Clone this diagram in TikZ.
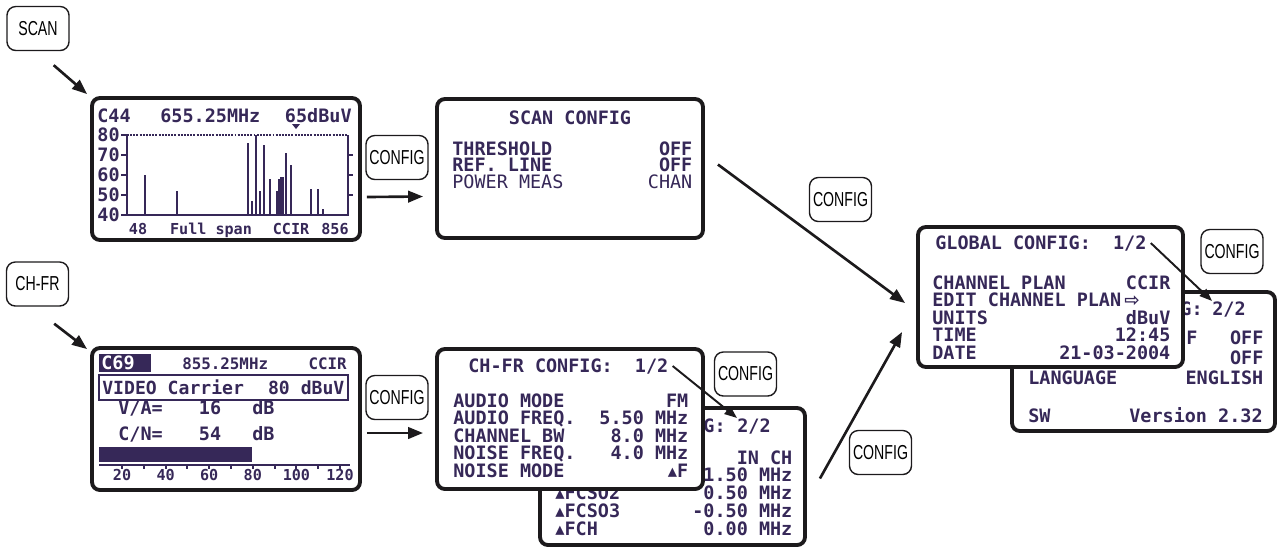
\documentclass[tikz,border=0pt]{standalone}
\usepackage{fontspec}
\usetikzlibrary{arrows.meta,fit,positioning}
\setmainfont{Liberation Sans}
\newfontfamily\lcdfont{DejaVu Sans Mono}
\newfontfamily\btnfont[FakeStretch=0.7]{Liberation Sans}
\newfontfamily\symfont{DejaVu Sans}
\definecolor{lcdink}{RGB}{54,40,88}
\definecolor{rim}{RGB}{28,26,28}
\newcommand\lcdsize[2]{\lcdfont\fontsize{#1}{#2}\selectfont\bfseries\lineskiplimit=-10pt\relax}
\newcommand\dtri{{\symfont ▴}}

\tikzset{
  screen/.style={draw=rim,line width=2.2pt,rounded corners=4.5pt,fill=white,inner sep=0pt},
  btn/.style={draw=rim,line width=0.8pt,rounded corners=5pt,minimum width=12.4mm,minimum height=8.8mm,
    inner sep=0pt,font=\btnfont\fontsize{11.5}{13}\selectfont},
  arr/.style={draw=rim,line width=1.5pt,-{Triangle[length=3mm,width=2.3mm]}},
  subarr/.style={draw=rim,line width=1.1pt,-{Triangle[length=2.5mm,width=1.9mm]}},
  lcd/.style={text=lcdink,inner sep=0pt,font=\lcdsize{10.5}{12}},
  lcdsmall/.style={font=\lcdsize{8.6}{10}},
  rows/.style={lcd,align=flush left,anchor=base west,text width=#1},
}

\begin{document}
\begin{tikzpicture}[x=0.2mm,y=-0.2mm]
\useasboundingbox (0,0) rectangle (1277,547);

% keys
\node[btn] (btnscan) at (38,28.5) {SCAN};
\node[btn] (btnchfr) at (37.5,284) {CH-FR};
\node[btn] (cfga) at (397,157.5) {CONFIG};
\node[btn] (cfgb) at (397,397.5) {CONFIG};
\node[btn] (cfgc) at (840.5,199.5) {CONFIG};
\node[btn] (cfgd) at (745.5,374) {CONFIG};
\node[btn] (cfge) at (880.5,452.5) {CONFIG};
\node[btn] (cfgf) at (1232,251.5) {CONFIG};

% spectrum screen
\node[screen,fit={(92,98) (360,240)}] (spec) {};
\node[lcd,anchor=base west] (spch) at (97,122) {C44};
\node[lcd,anchor=base west] (spfreq) at (160,122) {655.25MHz};
\node[lcd,anchor=base east] (splev) at (352,122) {65dBuV};
\fill[lcdink] (292,124) -- (300,124) -- (296,129) -- cycle;
\draw[lcdink,line width=1.3pt] (127,135) -- (127,215) -- (348,215) -- (348,135);
\draw[lcdink,line width=1.3pt,dash pattern=on 1.1pt off 0.7pt] (127,135) -- (348,135);
\foreach \v in {40,50,...,80}{
  \draw[lcdink,line width=1.3pt] (121,{215-2*(\v-40)}) -- (127,{215-2*(\v-40)});
  \node[lcd,anchor=east] (yl\v) at (120,{215-2*(\v-40)}) {\v};
}
\foreach \v in {50,60,70}
  \draw[lcdink,line width=1.3pt] (348,{215-2*(\v-40)}) -- (353,{215-2*(\v-40)});
\foreach \x/\v in {145/60,177/52,248/76,252/47,256/80,260/52,264/75,270/58,277/52,
                   279/58,281/59,283/59,286/71,291/65,311/53,318/53,323/43}
  \draw[lcdink,line width=1.5pt] (\x,215) -- (\x,{215-2*(\v-40)});
\node[lcd,lcdsmall,anchor=base] (sp48) at (138,234) {48};
\node[lcd,lcdsmall,anchor=base] (spfull) at (211,234) {Full span};
\node[lcd,lcdsmall,anchor=base] (spccir) at (291,234) {CCIR};
\node[lcd,lcdsmall,anchor=base] (sp856) at (335,234) {856};

% channel / frequency screen
\node[screen,fit={(92,348) (360,490)}] (chfr) {};
\node[fill=lcdink,inner sep=0pt,fit={(99,354) (151,372)}] (chhl) {};
\node[lcd,text=white,anchor=base west] (chno) at (101,369) {C69};
\node[lcd,font=\lcdsize{9}{11},anchor=base west] (chfreq) at (182,369) {855.25MHz};
\node[lcd,font=\lcdsize{9}{11},anchor=base east] (chstd) at (347,369) {CCIR};
\node[draw=lcdink,line width=1.3pt,inner sep=0pt,fit={(99,375) (348,400)}] (chvid) {};
\node[rows=48.4mm,font=\lcdsize{10.3}{12}] (chvidtxt) at (102,394) {VIDEO Carrier\hfill 80 dBuV};
\node[lcd,anchor=base west] (valbl) at (118,414) {V/A=};
\node[lcd,anchor=base] (vaval) at (210,414) {16};
\node[lcd,anchor=base west] (vaunit) at (252,414) {dB};
\node[lcd,anchor=base west] (cnlbl) at (118,440) {C/N=};
\node[lcd,anchor=base] (cnval) at (210,440) {54};
\node[lcd,anchor=base west] (cnunit) at (252,440) {dB};
\fill[lcdink] (99,447) rectangle (252,462);
\draw[lcdink,line width=1.2pt] (99,465) -- (350,465);
\foreach \k in {0,...,10}
  \draw[lcdink,line width=1.2pt] ({122+21.8*\k},465) -- ({122+21.8*\k},468.5);
\foreach \v [count=\k from 0] in {20,40,...,120}
  \node[lcd,lcdsmall,anchor=base] (bl\v) at ({122+43.6*\k},480) {\v};

% scan config
\node[screen,fit={(437,99) (703,238)}] (scancfg) {};
\node[lcd,anchor=base] (sctitle) at (570,124) {SCAN CONFIG};
\node[rows=48mm,font=\lcdsize{10.5}{9.4}] (scrows) at (452,155)
  {THRESHOLD\hfill OFF\\REF. LINE\hfill OFF\\\mdseries POWER MEAS\hfill CHAN};

% ch-fr config, page 2 behind page 1
\node[screen,fit={(540,408) (805,545)}] (chback) {};
\node[lcd,anchor=base east] (chbackttl) at (726,432) {G:};
\node[lcd,anchor=base west] (chpg) at (737,432) {2/2};
\node[rows=47.4mm,font=\lcdsize{10.5}{10.1}] (chbackrows) at (555,464)
  {\mbox{}\hfill IN CH\\\mbox{}\hfill 1.50 MHz\\\dtri FCSO2\hfill 0.50 MHz\\\dtri FCSO3\hfill -0.50 MHz\\\dtri FCH\hfill 0.00 MHz};
\node[screen,fit={(437,349) (703,489)}] (chcfg) {};
\node[lcd,anchor=base west] (chtitle) at (468,372) {CH-FR CONFIG:\ \ 1/2};
\node[rows=47mm,font=\lcdsize{10.5}{9.96}] (chrows) at (453,407)
  {AUDIO MODE\hfill FM\\AUDIO FREQ.\hfill 5.50 MHz\\CHANNEL BW\hfill 8.0 MHz\\NOISE FREQ.\hfill 4.0 MHz\\NOISE MODE\hfill\dtri F};

% global config, page 2 behind page 1
\node[screen,fit={(1012,292) (1275,431)}] (gback) {};
\node[lcd,anchor=base east] (gbackttl) at (1203,315) {G:};
\node[lcd,anchor=base west] (gpg) at (1212,315) {2/2};
\node[lcd,anchor=base west] (gf) at (1186,344) {F};
\node[rows=47mm,font=\lcdsize{10.5}{11.4}] (gbackrows) at (1028,344)
  {\mbox{}\hfill OFF\\\mbox{}\hfill OFF\\LANGUAGE\hfill ENGLISH};
\node[lcd,anchor=base west] (gsw) at (1028,422) {SW};
\node[lcd,anchor=base east] (gver) at (1263,422) {Version 2.32};
\node[screen,fit={(918,227) (1183,367)}] (gcfg) {};
\node[lcd,anchor=base west] (gtitle) at (935,249) {GLOBAL CONFIG:\ \ 1/2};
\node[rows=47.6mm,font=\lcdsize{10.5}{9.96}] (grows) at (932,289)
  {CHANNEL PLAN\hfill CCIR\\EDIT CHANNEL PLAN\,{\symfont ⇨}\\UNITS\hfill dBuV\\TIME\hfill 12:45\\DATE\hfill 21-03-2004};

% arrows
\draw[arr] ([shift={(-16,14)}]btnscan.south east) -- ([shift={(-3,-2)}]spec.north west);
\draw[arr] ([shift={(-15,17)}]btnchfr.south east) -- ([shift={(-3,3)}]chfr.north west);
\draw[arr] ([shift={(5,28)}]spec.east) -- ([shift={(-12,28)}]scancfg.west);
\draw[arr] ([shift={(5,14)}]chfr.east) -- ([shift={(-12,14)}]chcfg.west);
\draw[arr] ([shift={(13,-4)}]scancfg.east) -- ([shift={(-11,6)}]gcfg.west);
\draw[arr] ([shift={(13,2)}]chback.east) -- ([shift={(-14,35)}]gcfg.west);
\draw[subarr] ([xshift=0.8mm]chtitle.east) -- (chpg.north west);
\draw[subarr] ([xshift=0.8mm]gtitle.east) -- (gpg.north west);
\end{tikzpicture}
\end{document}
